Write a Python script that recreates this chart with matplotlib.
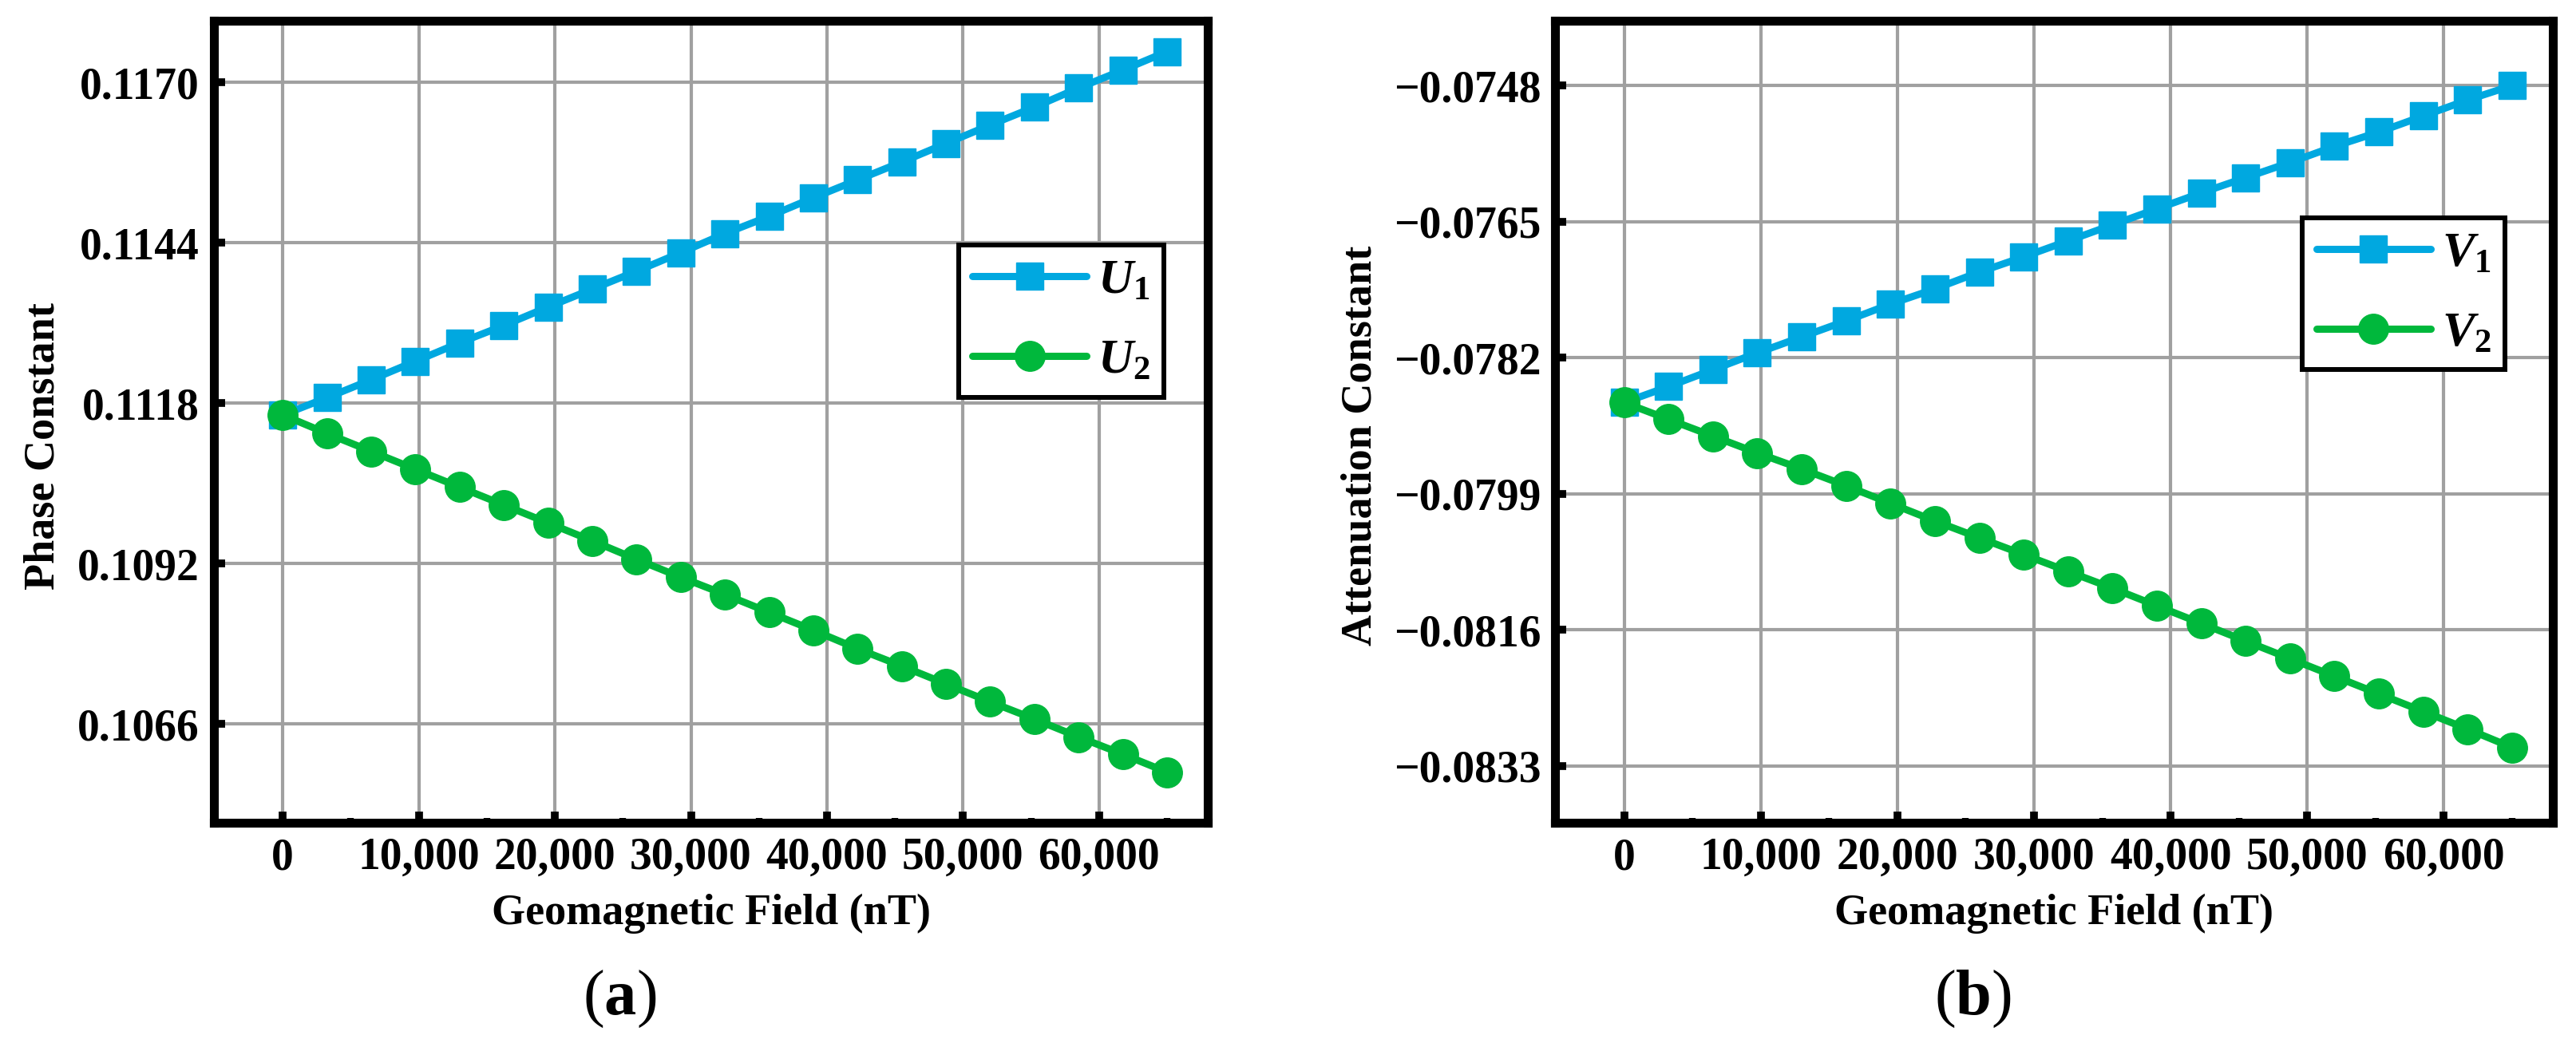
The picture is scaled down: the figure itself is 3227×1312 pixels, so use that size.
import matplotlib
matplotlib.use("Agg")
import matplotlib.pyplot as plt
from matplotlib.ticker import FixedLocator, FuncFormatter

# geomagnetic field (nT)
field = [0, 3250, 6500, 9750, 13000, 16250, 19500, 22750, 26000, 29250, 32500,
         35750, 39000, 42250, 45500, 48750, 52000, 55250, 58500, 61750, 65000]

# (a) phase constant
u1 = [0.11161, 0.11189, 0.11218, 0.11248, 0.11278, 0.11306, 0.11336, 0.11365,
      0.11394, 0.11424, 0.11455, 0.11483, 0.11513, 0.11542, 0.11571, 0.11601,
      0.11631, 0.11660, 0.11691, 0.11720, 0.11750]
u2 = [0.11161, 0.11131, 0.11102, 0.11073, 0.11044, 0.11015, 0.10986, 0.10957,
      0.10927, 0.10898, 0.10870, 0.10841, 0.10812, 0.10782, 0.10754, 0.10725,
      0.10696, 0.10668, 0.10639, 0.10611, 0.10582]

# (b) attenuation constant
v1 = [-0.07876, -0.07856, -0.07835, -0.07814, -0.07794, -0.07774, -0.07753,
      -0.07734, -0.07713, -0.07694, -0.07674, -0.07654, -0.07634, -0.07614,
      -0.07595, -0.07576, -0.07556, -0.07538, -0.07518, -0.07498, -0.07480]
v2 = [-0.07876, -0.07897, -0.07918, -0.07939, -0.07959, -0.07980, -0.08002,
      -0.08024, -0.08045, -0.08066, -0.08087, -0.08108, -0.08130, -0.08152,
      -0.08174, -0.08196, -0.08218, -0.08240, -0.08262, -0.08284, -0.08307]

xticks = [0, 10000, 20000, 30000, 40000, 50000, 60000]
xminor = [5000, 15000, 25000, 35000, 45000, 55000, 65000]
yticks_a = [0.1066, 0.1092, 0.1118, 0.1144, 0.1170]
yminor_a = [0.1053, 0.1079, 0.1105, 0.1131, 0.1157]
yticks_b = [-0.0833, -0.0816, -0.0799, -0.0782, -0.0765, -0.0748]
yminor_b = [-0.08245, -0.08075, -0.07905, -0.07735, -0.07565]

BLUE = '#00a8e0'
GREEN = '#00b83c'

plt.rcParams['font.family'] = 'Liberation Serif'
plt.rcParams['font.weight'] = 'bold'
plt.rcParams['mathtext.fontset'] = 'custom'
plt.rcParams['mathtext.it'] = 'Liberation Serif:italic:bold'
plt.rcParams['mathtext.rm'] = 'Liberation Serif'
plt.rcParams['mathtext.bf'] = 'Liberation Serif:bold'

fig = plt.figure(figsize=(32.27, 13.12), dpi=100)
ax_a = fig.add_axes([0.0831, 0.2142, 0.3858, 0.766])
ax_b = fig.add_axes([0.6037, 0.2142, 0.3874, 0.766])


def draw(ax, s1, s2, names, yticks, yminor, ylim, ylabel, anchor, ylab_x):
    ax.plot(field, s1, color=BLUE, lw=6.5, marker='s', ms=24, label=names[0],
            solid_capstyle='round')
    ax.plot(field, s2, color=GREEN, lw=6.5, marker='o', ms=27, label=names[1],
            solid_capstyle='round')
    ax.set_xlim(-5050, 68000)
    ax.set_ylim(*ylim)
    ax.set_xticks(xticks)
    ax.xaxis.set_minor_locator(FixedLocator(xminor))
    ax.set_yticks(yticks)
    ax.yaxis.set_minor_locator(FixedLocator(yminor))
    ax.xaxis.set_major_formatter(FuncFormatter(lambda v, p: f'{v:,.0f}'))
    ax.yaxis.set_major_formatter(
        FuncFormatter(lambda v, p: f'{v:.4f}'.replace('-', '\u2212')))
    ax.tick_params(which='major', direction='in', length=10, width=7,
                   labelsize=40, pad=13)
    ax.tick_params(which='minor', direction='in', length=4, width=6)
    ax.grid(True, which='major', color='#a0a0a0', lw=3)
    ax.set_axisbelow(True)
    for sp in ax.spines.values():
        sp.set_linewidth(8)
        sp.set_color('black')
    ax.set_xlabel('Geomagnetic Field (nT)', fontsize=39, weight='bold',
                  va='center')
    ax.xaxis.set_label_coords(0.5, -0.113)
    ax.set_ylabel(ylabel, fontsize=39, weight='bold', va='center')
    ax.yaxis.set_label_coords(ylab_x, 0.47)
    leg = ax.legend(loc='upper left', bbox_to_anchor=anchor, borderaxespad=0,
                    fontsize=44, handlelength=2.35, handletextpad=0.22,
                    borderpad=0.28, labelspacing=0.72, fancybox=False,
                    framealpha=1)
    leg.get_frame().set_edgecolor('black')
    leg.get_frame().set_linewidth(4.3)


draw(ax_a, u1, u2, [r'$U_1$', r'$U_2$'], yticks_a, yminor_a, (0.1050, 0.1180),
     'Phase Constant', (0.749, 0.720), -0.172)
draw(ax_b, v1, v2, [r'$V_1$', r'$V_2$'], yticks_b, yminor_b, (-0.08401, -0.07399),
     'Attenuation Constant', (0.749, 0.754), -0.195)

fig.text(0.2405, 0.0457, r'($\mathbf{a}$)', fontsize=58, weight='normal',
         ha='center', va='center')
fig.text(0.7657, 0.0457, r'($\mathbf{b}$)', fontsize=58, weight='normal',
         ha='center', va='center')

fig.savefig('out.png', dpi=100)
